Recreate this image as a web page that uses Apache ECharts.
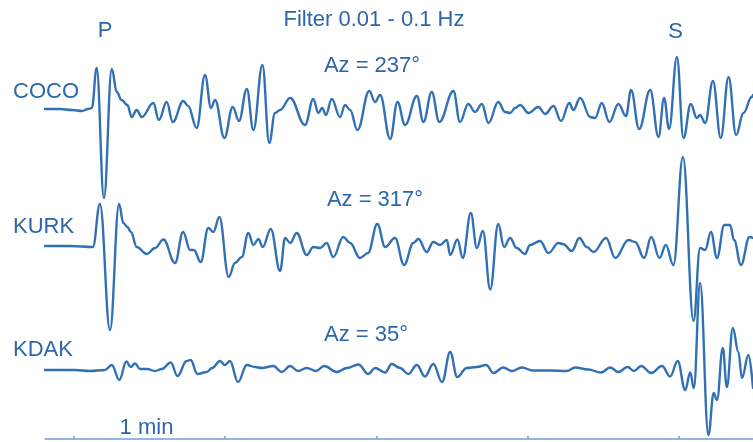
<!DOCTYPE html>
<html><head><meta charset="utf-8">
<script src="https://cdn.jsdelivr.net/npm/echarts@6/dist/echarts.min.js"></script>
<style>html,body{margin:0;padding:0;background:#fff}#c{width:753px;height:442px}</style>
</head><body><div id="c"></div>
<script>
// Station names, azimuths, phase labels
const stations = ['COCO', 'KURK', 'KDAK'];
const azimuths = ['Az = 237°', 'Az = 317°', 'Az = 35°'];
const phases = ['P', 'S'];
const titleText = 'Filter 0.01 - 0.1 Hz';
const scaleText = '1 min';
const tickSeconds = [0, 60, 120, 180, 240];

// [time (s), amplitude] pairs (turning points of each trace)
const coco = [[-11.5,0],[-5.6,0],[-0.8,-1],[3.2,-2],[5.6,0],[7.1,1],[9.0,41],[11.9,-89],[15.0,40],[17.0,17],[18.9,9],[21.2,4],[22.9,-8],[24.9,-1],[26.9,-8],[31.5,6],[33.7,-11],[36.8,7],[39.2,-13],[43.4,8],[45.3,3],[48.7,-19],[52.0,34],[54.4,1],[56.0,9],[59.7,-29],[63.0,2],[65.5,-12],[68.6,20],[71.2,-21],[74.8,44],[77.5,-34],[79.8,-4],[81.8,-1],[85.8,11],[91.7,-16],[95.0,10],[97.0,-4],[98.5,1],[100.0,-6],[102.3,10],[105.6,-8],[107.6,4],[109.6,-1],[112.5,-21],[117.2,18],[119.5,7],[121.5,14],[125.5,-30],[128.4,7],[131.4,-16],[136.1,13],[138.7,-13],[142.0,17],[145.0,-13],[150.6,18],[153.2,-13],[156.5,5],[159.2,-3],[161.9,5],[164.5,-14],[168.4,7],[171.1,-3],[173.1,-4],[175.1,1],[177.1,4],[180.4,-4],[184.3,2],[187.0,-5],[190.3,3],[193.3,-12],[196.6,6],[198.2,-1],[200.9,11],[204.9,-8],[206.8,-9],[209.5,6],[212.5,-13],[216.1,5],[219.1,-7],[221.1,19],[224.3,-20],[228.7,19],[232.0,-28],[234.2,11],[236.2,-20],[239.3,52],[241.9,-29],[244.8,5],[247.2,-9],[248.5,-6],[250.5,-14],[253.6,28],[256.7,-29],[259.8,32],[262.8,-26],[265.7,-4],[269.0,12],[269.5,14]];

const kurk = [[-11.5,0],[-1.6,0],[7.5,-1],[10.3,42],[14.3,-84],[17.9,42],[19.6,23],[21.2,19],[22.6,14],[24.9,-1],[28.9,-8],[32.2,-2],[35.5,6.5],[40.1,-17],[43.3,14],[46.1,-4],[47.6,-4],[50.3,-16],[53.3,18],[55.3,14],[57.7,29],[61.4,-31],[63.9,-17],[66.6,-11],[69.2,13],[71.2,1],[73.2,7],[74.9,-1],[78.1,17],[81.8,-25],[83.8,8],[85.8,3],[88.4,13],[92.4,-9],[95.0,-1],[97.7,-2],[100.3,3],[102.9,-11],[106.9,9],[109.6,3],[113.5,-12],[116.7,-7],[120.4,22],[123.5,-1],[127.4,8],[131.0,-19],[134.7,3],[136.7,7],[140.0,-6],[142.6,4],[145.3,1],[148.0,6],[149.3,-9],[152.2,6.5],[154.3,-12],[157.5,33],[159.9,-2],[162.3,15],[165.2,-43.5],[168.4,22],[170.7,-1],[173.1,8],[175.7,-2],[179.0,-8],[181.0,1],[185.0,5],[188.3,-7],[192.3,3],[194.1,2],[197.6,-5],[200.6,8],[203.5,-1],[206.2,-6],[211.2,8],[214.8,-12],[220.1,6],[222.7,4],[226.3,-12],[229.1,9],[232.4,-12],[234.9,1],[237.9,-19],[241.7,89],[245.9,-75],[248.5,-2],[250.5,-4],[252.8,14],[255.2,-12],[258.1,21],[260.4,21],[262.0,6],[264.7,-19],[268.1,9],[269.5,8]];

const kdak = [[-11.5,0],[0.4,0],[6.4,-1],[12.3,0],[15.0,5],[18.0,-10],[20.8,8.5],[22.5,3],[24.2,6.5],[26.2,1],[29.0,1],[32.2,-1],[34.9,1],[38.4,7.5],[41.1,-6],[44.7,9],[46.3,10],[49.0,-4],[52.7,-2],[54.8,2],[58.0,9],[59.9,5],[61.9,9],[65.1,-12],[68.6,5],[71.9,3],[74.6,2],[79.1,4],[82.5,-2],[85.8,4],[88.9,-1],[92.4,2],[96.1,-1],[99.3,4],[104.3,-2],[108.3,2],[112.9,5.5],[116.8,-4],[119.5,2],[123.5,-2.5],[126.1,6],[129.4,2],[132.7,-4],[136.1,5],[139.3,-6.5],[142.6,6],[146.1,-12],[149.3,18],[152.1,-7],[155.9,2],[159.9,3],[163.6,5],[166.5,-3],[170.4,2.5],[173.9,-1],[177.7,2.5],[182.2,-0.5],[189.0,-0.5],[195.6,-1],[198.9,2.5],[204.1,0.5],[209.2,-2.5],[212.8,2.5],[216.1,-2],[219.7,3],[222.3,-1],[225.1,4],[229.1,-3],[233.4,4],[236.6,-6.5],[239.6,9],[242.6,-20],[244.6,-2.5],[246.0,-18],[248.5,87],[251.8,-65],[253.9,-23],[255.2,-30],[257.5,22],[259.1,-17],[261.5,42],[263.7,18],[265.1,-8],[267.7,15],[269.5,-18]];

const traces = [coco, kurk, kdak];

// ---------- layout / style ----------
const LINE = '#3170b5';
const TEXT = '#2c67a8';
const AXIS = '#6f9fd6';
const FONT = '"Liberation Sans", Arial, sans-serif';
const FS = 22;
const X_MIN = -11.5, X_MAX = 269.5;
const grids = [
  {left: 45, width: 708, top: 49, height: 120},
  {left: 45, width: 708, top: 186, height: 120},
  {left: 45, width: 708, top: 300, height: 139}
];
const yRanges = [[-60, 60], [-60, 60], [-69, 70]];

const chart = echarts.init(document.getElementById('c'), null, {renderer: 'canvas'});

const xAxes = grids.map((g, i) => ({
  type: 'value', gridIndex: i, min: X_MIN, max: X_MAX,
  show: i === 2,
  axisLine: {show: true, onZero: false, lineStyle: {color: AXIS, width: 1.5}},
  axisTick: {show: true, inside: true, length: 3, customValues: tickSeconds, lineStyle: {color: AXIS, width: 1.5}},
  axisLabel: {show: false},
  splitLine: {show: false}
}));
const yAxes = grids.map((g, i) => ({
  type: 'value', gridIndex: i, min: yRanges[i][0], max: yRanges[i][1], show: false,
  splitLine: {show: false}
}));

const series = traces.map((d, i) => ({
  type: 'line', name: stations[i], xAxisIndex: i, yAxisIndex: i,
  data: d, smooth: 0.4, smoothMonotone: 'x', showSymbol: false, symbol: 'none', clip: false,
  lineStyle: {color: LINE, width: 2.4, join: 'round', cap: 'round'}, silent: true
}));

function txt(text, x, y, align) {
  return {type: 'text', x: x, y: y, silent: true,
    style: {text: text, fill: TEXT, font: FS + 'px ' + FONT,
      textAlign: align || 'center', textVerticalAlign: 'middle'}};
}
const stationY = [91.5, 227, 350];
const azPos = [[372, 66], [375, 200], [366, 335]];
const graphics = [
  txt(titleText, 374, 20),
  txt(phases[0], 105, 31),
  txt(phases[1], 675.5, 32),
  txt(scaleText, 146.5, 428)
];
stations.forEach((s, i) => graphics.push(txt(s, 13, stationY[i], 'left')));
azimuths.forEach((a, i) => graphics.push(txt(a, azPos[i][0], azPos[i][1])));

chart.setOption({
  animation: false,
  backgroundColor: '#ffffff',
  grid: grids,
  xAxis: xAxes,
  yAxis: yAxes,
  series: series,
  graphic: graphics
});
</script></body></html>
